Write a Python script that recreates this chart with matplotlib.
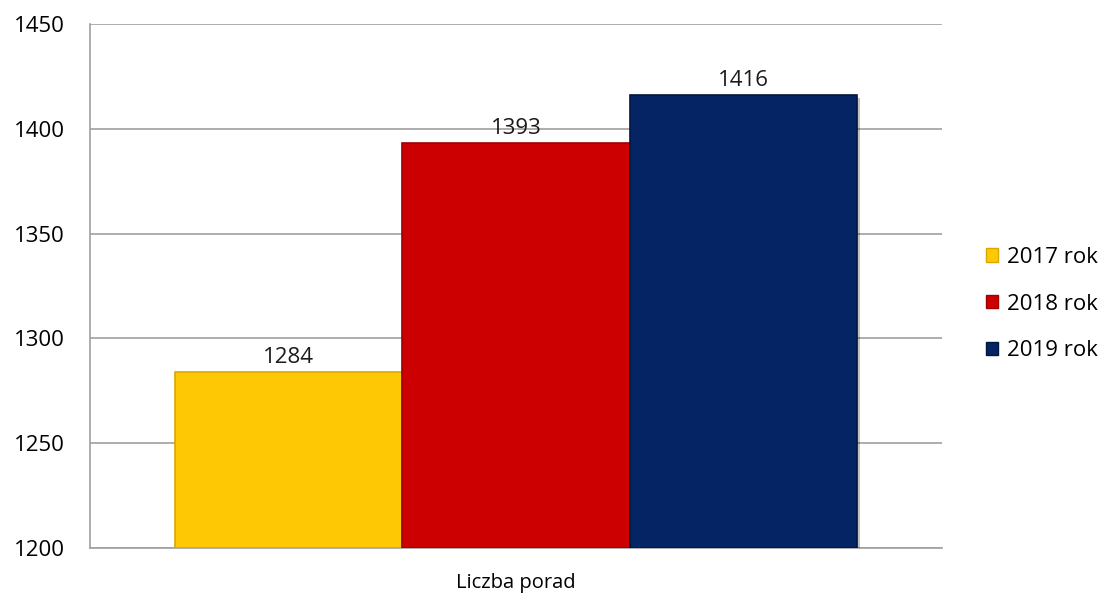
import matplotlib.pyplot as plt
import matplotlib.patheffects as pe
from matplotlib.patches import Patch

# data
category = 'Liczba porad'
years = ['2017 rok', '2018 rok', '2019 rok']
values = [1284, 1393, 1416]
colors = ['#FFC805', '#CC0000', '#052464']
edge_colors = ['#D9A800', '#A00000', '#021640']
y_ticks = [1200, 1250, 1300, 1350, 1400, 1450]

plt.rcParams['font.family'] = ['Open Sans', 'DejaVu Sans']

fig = plt.figure(figsize=(11.05, 5.97), dpi=100)
ax = fig.add_axes([90 / 1105, 1 - 548 / 597, 852 / 1105, 524 / 597])

width = 0.8 / len(values)
offsets = [(i - (len(values) - 1) / 2) * width for i in range(len(values))]

for off, v, c, ec, lab in zip(offsets, values, colors, edge_colors, years):
    bars = ax.bar(off, v - y_ticks[0], bottom=y_ticks[0], width=width, color=c,
                  edgecolor=ec, linewidth=1.2, label=lab, zorder=3)
    for b in bars:
        b.set_path_effects([pe.SimplePatchShadow(offset=(2, -2), alpha=0.25),
                            pe.Normal()])
    ax.text(off, v + 2, str(v), ha='center', va='bottom', fontsize=16,
            color='#1a1a1a', zorder=4)

ax.set_xlim(-0.5, 0.5)
ax.set_ylim(y_ticks[0], y_ticks[-1])
ax.set_yticks(y_ticks)
ax.set_xticks([0])
ax.set_xticklabels([category])
ax.tick_params(axis='y', length=0, pad=18, labelsize=16)
ax.tick_params(axis='x', length=0, pad=18, labelsize=14.5)
ax.grid(axis='y', color='#a0a0a0', linewidth=1.2, zorder=0)

for s in ['top', 'right']:
    ax.spines[s].set_visible(False)
for s in ['left', 'bottom']:
    ax.spines[s].set_color('#a0a0a0')
    ax.spines[s].set_linewidth(1.2)

handles = [Patch(facecolor=c, edgecolor=ec, label=l)
           for c, ec, l in zip(colors, edge_colors, years)]
fig.legend(handles=handles, loc='center left', bbox_to_anchor=(970 / 1105, 1 - 304 / 597),
           frameon=False, fontsize=16, handlelength=0.55, handleheight=0.55,
           handletextpad=0.4, labelspacing=1.15, borderpad=0.2)

fig.savefig('out.png', dpi=100)
